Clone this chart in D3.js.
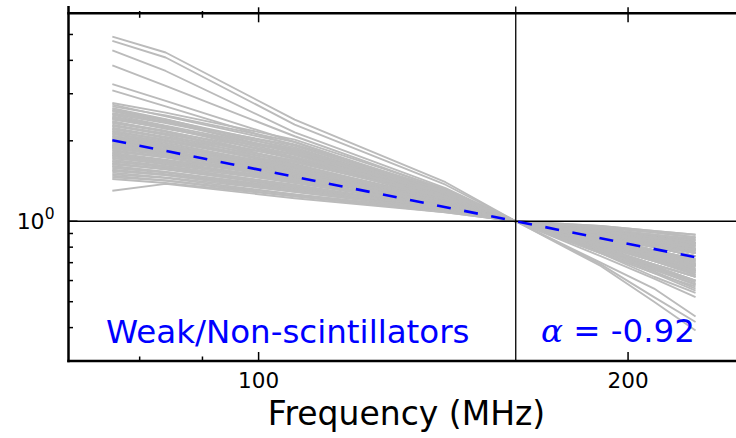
<!DOCTYPE html>
<html>
<head>
<meta charset="utf-8">
<script src="https://cdn.jsdelivr.net/npm/d3@7"></script>
<style>
  html, body { margin: 0; padding: 0; background: #fff; }
  svg { display: block; }
  text { font-family: "DejaVu Sans", sans-serif; }
</style>
</head>
<body>
<div id="chart"></div>
<script>
// frequencies (MHz) at which each normalised spectrum is sampled
var freqs = [76, 84, 107, 142, 162, 190, 210, 227];

// flux density normalised at 162 MHz, one row per source
var spectra = [
    [2.77, 2.55, 2.02, 1.32, 1, 0.88, 0.81, 0.76],
    [2.73, 2.47, 1.94, 1.31, 1, 0.81, 0.71, 0.63],
    [2.69, 2.49, 1.98, 1.27, 1, 0.91, 0.85, 0.81],
    [2.65, 2.41, 1.85, 1.30, 1, 0.85, 0.76, 0.69],
    [2.62, 2.40, 1.89, 1.26, 1, 0.79, 0.67, 0.59],
    [2.60, 2.38, 1.80, 1.24, 1, 0.87, 0.80, 0.74],
    [2.58, 2.35, 1.92, 1.29, 1, 0.95, 0.91, 0.87],
    [2.54, 2.36, 1.80, 1.25, 1, 0.87, 0.78, 0.72],
    [2.52, 2.33, 1.87, 1.27, 1, 0.82, 0.72, 0.65],
    [2.50, 2.28, 1.83, 1.28, 1, 0.77, 0.65, 0.56],
    [2.47, 2.27, 1.72, 1.24, 1, 0.90, 0.84, 0.79],
    [2.45, 2.25, 1.78, 1.22, 1, 0.90, 0.84, 0.79],
    [2.43, 2.23, 1.85, 1.27, 1, 0.83, 0.73, 0.66],
    [2.42, 2.22, 1.82, 1.26, 1, 0.76, 0.64, 0.57],
    [2.40, 2.24, 1.74, 1.20, 1, 0.93, 0.89, 0.85],
    [2.37, 2.17, 1.77, 1.23, 1, 0.80, 0.69, 0.62],
    [2.35, 2.18, 1.71, 1.21, 1, 0.84, 0.74, 0.68],
    [2.33, 2.16, 1.66, 1.26, 1, 0.87, 0.80, 0.74],
    [2.30, 2.12, 1.73, 1.19, 1, 0.76, 0.62, 0.54],
    [2.28, 2.10, 1.64, 1.19, 1, 0.88, 0.81, 0.76],
    [2.27, 2.13, 1.68, 1.22, 1, 0.96, 0.92, 0.89],
    [2.24, 2.07, 1.74, 1.24, 1, 0.86, 0.77, 0.71],
    [2.22, 2.05, 1.69, 1.22, 1, 0.80, 0.69, 0.62],
    [2.21, 2.06, 1.61, 1.18, 1, 0.89, 0.83, 0.78],
    [2.18, 2.01, 1.63, 1.21, 1, 0.82, 0.72, 0.65],
    [2.17, 2.02, 1.60, 1.17, 1, 0.93, 0.88, 0.84],
    [2.15, 2.02, 1.66, 1.23, 1, 0.92, 0.87, 0.83],
    [2.13, 1.99, 1.62, 1.20, 1, 0.83, 0.73, 0.66],
    [2.12, 1.97, 1.57, 1.20, 1, 0.80, 0.68, 0.60],
    [2.09, 1.96, 1.59, 1.17, 1, 0.88, 0.81, 0.76],
    [2.08, 1.94, 1.55, 1.16, 1, 0.89, 0.82, 0.77],
    [2.06, 1.92, 1.61, 1.19, 1, 0.84, 0.74, 0.68],
    [2.04, 1.90, 1.58, 1.19, 1, 0.79, 0.67, 0.60],
    [2.03, 1.92, 1.53, 1.21, 1, 0.95, 0.91, 0.87],
    [2.01, 1.89, 1.51, 1.15, 1, 0.91, 0.86, 0.82],
    [2.00, 1.87, 1.55, 1.18, 1, 0.87, 0.78, 0.72],
    [1.98, 1.86, 1.57, 1.15, 1, 0.78, 0.66, 0.58],
    [1.97, 1.84, 1.53, 1.17, 1, 0.86, 0.77, 0.70],
    [1.95, 1.82, 1.49, 1.17, 1, 0.91, 0.85, 0.81],
    [1.93, 1.80, 1.48, 1.14, 1, 0.84, 0.74, 0.67],
    [1.92, 1.83, 1.51, 1.19, 1, 0.85, 0.76, 0.69],
    [1.90, 1.78, 1.47, 1.14, 1, 0.89, 0.83, 0.78],
    [1.90, 1.79, 1.52, 1.18, 1, 0.78, 0.66, 0.58],
    [1.88, 1.76, 1.49, 1.16, 1, 0.92, 0.87, 0.83],
    [1.87, 1.77, 1.51, 1.16, 1, 0.81, 0.71, 0.63],
    [1.85, 1.74, 1.47, 1.16, 1, 0.93, 0.89, 0.85],
    [1.84, 1.73, 1.44, 1.13, 1, 0.82, 0.72, 0.64],
    [1.82, 1.74, 1.43, 1.13, 1, 0.87, 0.80, 0.74],
    [1.80, 1.70, 1.46, 1.15, 1, 0.88, 0.82, 0.77],
    [1.79, 1.69, 1.45, 1.17, 1, 0.83, 0.73, 0.66],
    [1.77, 1.68, 1.41, 1.15, 1, 0.90, 0.84, 0.79],
    [1.76, 1.67, 1.40, 1.12, 1, 0.85, 0.75, 0.69],
    [1.75, 1.65, 1.44, 1.12, 1, 0.86, 0.77, 0.71],
    [1.73, 1.63, 1.42, 1.14, 1, 0.94, 0.89, 0.86],
    [1.72, 1.65, 1.39, 1.14, 1, 0.96, 0.92, 0.89],
    [1.70, 1.61, 1.40, 1.14, 1, 0.80, 0.69, 0.62],
    [1.68, 1.59, 1.37, 1.12, 1, 0.81, 0.71, 0.64],
    [1.67, 1.60, 1.36, 1.11, 1, 0.88, 0.81, 0.76],
    [1.65, 1.57, 1.34, 1.13, 1, 0.92, 0.87, 0.83],
    [1.64, 1.56, 1.35, 1.11, 1, 0.89, 0.83, 0.78],
    [1.63, 1.57, 1.36, 1.11, 1, 0.84, 0.74, 0.68],
    [1.61, 1.53, 1.33, 1.12, 1, 0.90, 0.84, 0.79],
    [1.60, 1.53, 1.32, 1.10, 1, 0.86, 0.77, 0.70],
    [1.58, 1.52, 1.31, 1.10, 1, 0.87, 0.78, 0.72],
    [1.56, 1.50, 1.31, 1.11, 1, 0.95, 0.91, 0.87],
    [1.55, 1.49, 1.30, 1.10, 1, 0.91, 0.86, 0.82],
    [1.54, 1.49, 1.29, 1.10, 1, 0.82, 0.72, 0.65],
    [1.52, 1.46, 1.29, 1.11, 1, 0.89, 0.83, 0.78],
    [1.50, 1.45, 1.26, 1.09, 1, 0.92, 0.87, 0.83],
    [1.48, 1.42, 1.26, 1.10, 1, 0.87, 0.80, 0.74],
    [1.46, 1.42, 1.24, 1.08, 1, 0.85, 0.76, 0.69],
    [1.44, 1.39, 1.24, 1.09, 1, 0.91, 0.85, 0.81],
    [1.30, 1.38, 1.22, 1.08, 1, 0.90, 0.84, 0.80],
    [4.91, 4.28, 2.40, 1.40, 1, 0.68, 0.50, 0.39],
    [4.73, 4.10, 2.30, 1.37, 1, 0.69, 0.52, 0.42],
    [4.36, 3.65, 2.15, 1.33, 1, 0.70, 0.56, 0.44],
    [3.83, 3.21, 2.08, 1.31, 1, 0.74, 0.61, 0.52],
    [3.26, 2.82, 1.98, 1.29, 1, 0.76, 0.64, 0.55],
    [3.09, 2.69, 1.92, 1.27, 1, 0.79, 0.68, 0.60]
];

// power-law fit, alpha = -0.92
var fitFreqs = [76, 227];
var fitValues = [2.01, 0.733];
var fitAlpha = '-0.92';
var refFreq = 162;
var refValue = 1;

var xMajorTicks = [100, 200];
var xMinorTicks = [80, 90];
var yMajorTicks = [1];
var yMinorTicks = [0.4, 0.5, 0.6, 0.7, 0.8, 0.9, 2, 3, 4, 5];

var groupLabel = 'Weak/Non-scintillators';

var width = 736;
var height = 438;
var plot = { left: 68.5, top: 13.3, bottom: 361, right: 747 };

var svg = d3.select('#chart')
    .append('svg')
    .attr('width', width)
    .attr('height', height);

var x = d3.scaleLog()
    .domain([70, 250])
    .range([plot.left, plot.right]);

var y = d3.scaleLog()
    .domain([0.3, 6])
    .range([plot.bottom, plot.top]);

var line = d3.line()
    .x(function(d) { return x(d[0]); })
    .y(function(d) { return y(d[1]); });

// gray spectra
svg.append('g')
    .attr('id', 'spectra')
    .selectAll('path')
    .data(spectra)
    .enter()
    .append('path')
    .attr('d', function(row) {
        return line(row.map(function(v, i) { return [freqs[i], v]; }));
    })
    .attr('fill', 'none')
    .attr('stroke', '#bbbbbb')
    .attr('stroke-width', 1.9)
    .attr('stroke-linejoin', 'round');

// reference lines at normalisation point
svg.append('line')
    .attr('x1', plot.left)
    .attr('x2', width)
    .attr('y1', y(refValue))
    .attr('y2', y(refValue))
    .attr('stroke', '#000')
    .attr('stroke-width', 1.3);

svg.append('line')
    .attr('x1', x(refFreq))
    .attr('x2', x(refFreq))
    .attr('y1', 6.5)
    .attr('y2', plot.bottom)
    .attr('stroke', '#000')
    .attr('stroke-width', 1.3);

// fit
svg.append('path')
    .datum(fitFreqs.map(function(f, i) { return [f, fitValues[i]]; }))
    .attr('d', line)
    .attr('fill', 'none')
    .attr('stroke', '#0000ff')
    .attr('stroke-width', 2.6)
    .attr('stroke-dasharray', '14,13.6');

// spines
var spine = svg.append('g')
    .attr('stroke', '#000')
    .attr('stroke-width', 2.5)
    .attr('fill', 'none');
spine.append('line').attr('x1', plot.left).attr('x2', plot.left).attr('y1', 6).attr('y2', plot.bottom + 1.2);
spine.append('line').attr('x1', plot.left - 1.2).attr('x2', width).attr('y1', plot.bottom).attr('y2', plot.bottom);
spine.append('line').attr('x1', plot.left - 1.2).attr('x2', width).attr('y1', plot.top).attr('y2', plot.top);

// ticks
var ticks = svg.append('g')
    .attr('stroke', '#000')
    .attr('stroke-width', 1.5);

function xTicks(values, len, up) {
    values.forEach(function(v) {
        ticks.append('line')
            .attr('x1', x(v)).attr('x2', x(v))
            .attr('y1', plot.bottom).attr('y2', plot.bottom - len);
        ticks.append('line')
            .attr('x1', x(v)).attr('x2', x(v))
            .attr('y1', plot.top - up).attr('y2', plot.top + len);
    });
}
xTicks(xMajorTicks, 9, 6);
xTicks(xMinorTicks, 4.5, 2.3);

yMinorTicks.concat(yMajorTicks).forEach(function(v) {
    var len = yMajorTicks.indexOf(v) >= 0 ? 9 : 4.5;
    ticks.append('line')
        .attr('x1', plot.left).attr('x2', plot.left + len)
        .attr('y1', y(v)).attr('y2', y(v));
});

// tick labels
svg.append('g')
    .selectAll('text')
    .data(xMajorTicks)
    .enter()
    .append('text')
    .attr('x', function(d) { return x(d); })
    .attr('y', plot.bottom + 27.3)
    .attr('text-anchor', 'middle')
    .style('font-size', '21.5px')
    .text(function(d) { return d; });

var yLabel = svg.append('text')
    .attr('x', 54.5)
    .attr('y', y(1) + 8)
    .attr('text-anchor', 'end')
    .style('font-size', '22px');
yLabel.append('tspan').text('10');
yLabel.append('tspan')
    .attr('dy', -10)
    .style('font-size', '15.5px')
    .text('0');

// axis title
svg.append('text')
    .attr('x', 406.5)
    .attr('y', 425)
    .attr('text-anchor', 'middle')
    .style('font-size', '33px')
    .text('Frequency (MHz)');

// annotations
svg.append('text')
    .attr('x', 106)
    .attr('y', 343)
    .attr('fill', '#0000ff')
    .style('font-size', '32.5px')
    .text(groupLabel);

var alphaLabel = svg.append('text')
    .attr('x', 541)
    .attr('y', 342)
    .attr('fill', '#0000ff')
    .style('font-size', '32.5px');
alphaLabel.append('tspan')
    .style('font-family', '"DejaVu Serif", serif')
    .style('font-style', 'italic')
    .text('\u03b1');
alphaLabel.append('tspan')
    .text(' = ' + fitAlpha);
</script>
</body>
</html>
